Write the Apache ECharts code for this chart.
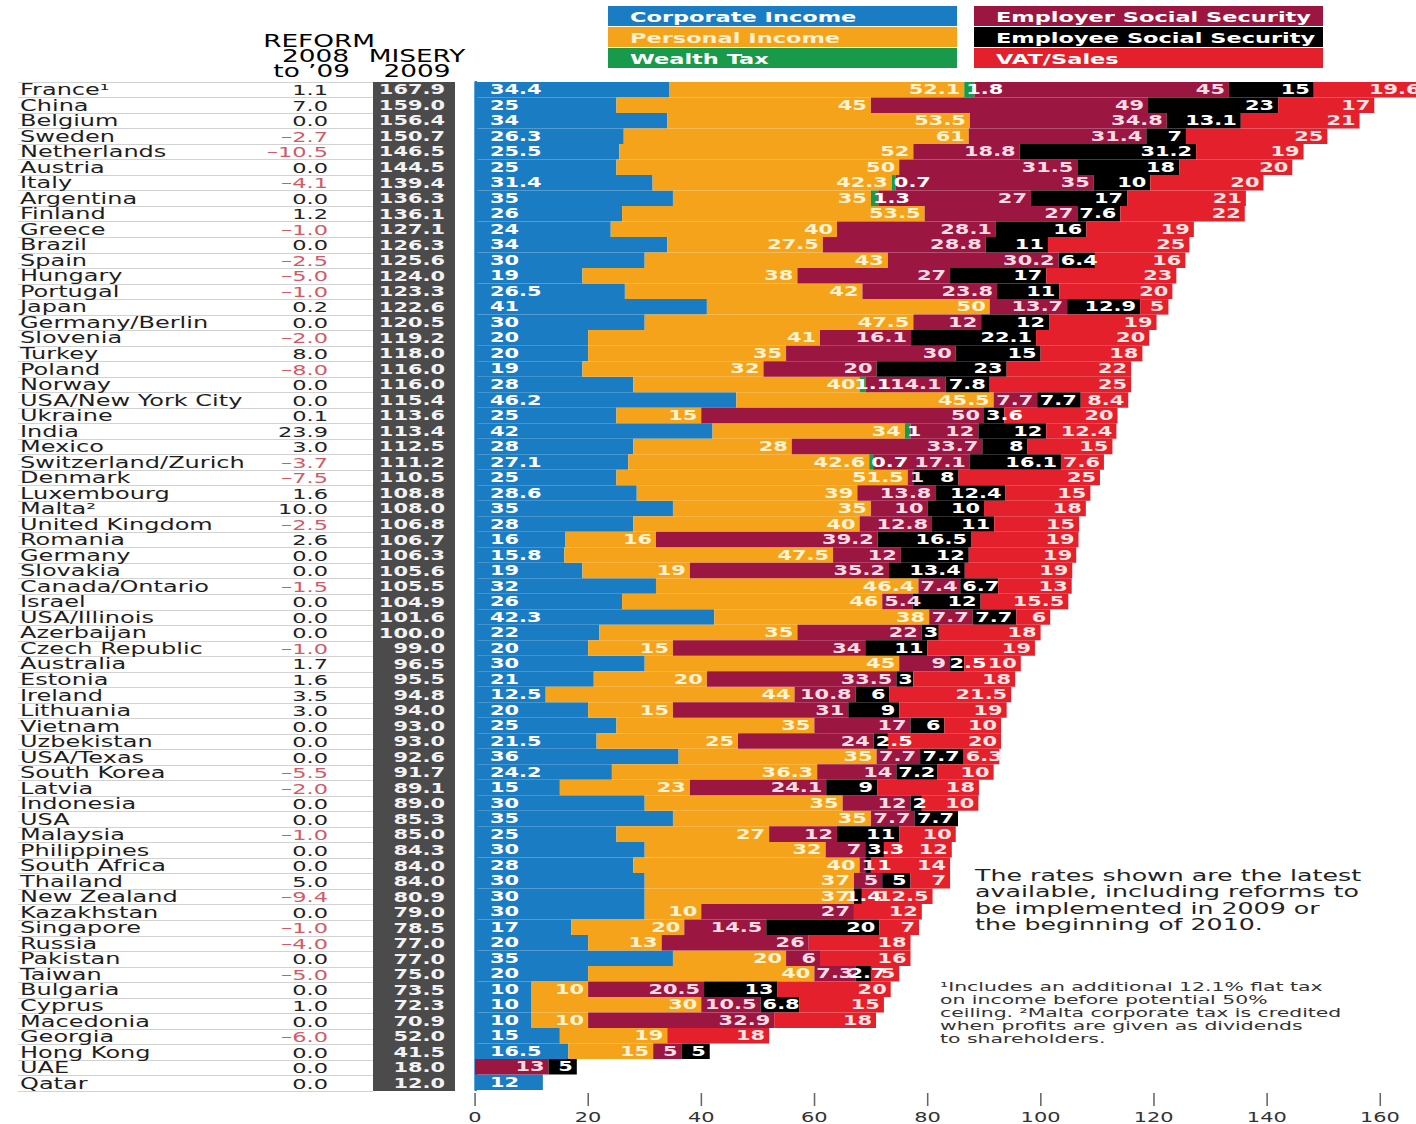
<!DOCTYPE html>
<html>
<head>
<meta charset="utf-8">
<script src="https://cdn.jsdelivr.net/npm/echarts@6/dist/echarts.min.js"></script>
<style>
  html, body { margin: 0; padding: 0; background: #fff; overflow: hidden; }
  #chart { height: 1124px; transform-origin: 0 0; }
</style>
</head>
<body>
<div id="chart"></div>
<script>
// ---- data -------------------------------------------------------------
const countries = ['France¹','China','Belgium','Sweden','Netherlands','Austria','Italy','Argentina','Finland','Greece',
  'Brazil','Spain','Hungary','Portugal','Japan','Germany/Berlin','Slovenia','Turkey','Poland','Norway',
  'USA/New York City','Ukraine','India','Mexico','Switzerland/Zurich','Denmark','Luxembourg','Malta²','United Kingdom','Romania',
  'Germany','Slovakia','Canada/Ontario','Israel','USA/Illinois','Azerbaijan','Czech Republic','Australia','Estonia','Ireland',
  'Lithuania','Vietnam','Uzbekistan','USA/Texas','South Korea','Latvia','Indonesia','USA','Malaysia','Philippines',
  'South Africa','Thailand','New Zealand','Kazakhstan','Singapore','Russia','Pakistan','Taiwan','Bulgaria','Cyprus',
  'Macedonia','Georgia','Hong Kong','UAE','Qatar'];

const reform = [1.1,7.0,0.0,-2.7,-10.5,0.0,-4.1,0.0,1.2,-1.0,
  0.0,-2.5,-5.0,-1.0,0.2,0.0,-2.0,8.0,-8.0,0.0,
  0.0,0.1,23.9,3.0,-3.7,-7.5,1.6,10.0,-2.5,2.6,
  0.0,0.0,-1.5,0.0,0.0,0.0,-1.0,1.7,1.6,3.5,
  3.0,0.0,0.0,0.0,-5.5,-2.0,0.0,0.0,-1.0,0.0,
  0.0,5.0,-9.4,0.0,-1.0,-4.0,0.0,-5.0,0.0,1.0,
  0.0,-6.0,0.0,0.0,0.0];

const misery = [167.9,159.0,156.4,150.7,146.5,144.5,139.4,136.3,136.1,127.1,
  126.3,125.6,124.0,123.3,122.6,120.5,119.2,118.0,116.0,116.0,
  115.4,113.6,113.4,112.5,111.2,110.5,108.8,108.0,106.8,106.7,
  106.3,105.6,105.5,104.9,101.6,100.0,99.0,96.5,95.5,94.8,
  94.0,93.0,93.0,92.6,91.7,89.1,89.0,85.3,85.0,84.3,
  84.0,84.0,80.9,79.0,78.5,77.0,77.0,75.0,73.5,72.3,
  70.9,52.0,41.5,18.0,12.0];

const corporate = [34.4,25,34,26.3,25.5,25,31.4,35,26,24,
  34,30,19,26.5,41,30,20,20,19,28,
  46.2,25,42,28,27.1,25,28.6,35,28,16,
  15.8,19,32,26,42.3,22,20,30,21,12.5,
  20,25,21.5,36,24.2,15,30,35,25,30,
  28,30,30,30,17,20,35,20,10,10,
  10,15,16.5,null,12];

const personal = [52.1,45,53.5,61,52,50,42.3,35,53.5,40,
  27.5,43,38,42,50,47.5,41,35,32,40,
  45.5,15,34,28,42.6,51.5,39,35,40,16,
  47.5,19,46.4,46,38,35,15,45,20,44,
  15,35,25,35,36.3,23,35,35,27,32,
  40,37,37,10,20,13,20,40,10,30,
  10,19,15,null,null];

const wealth = [1.8,null,null,null,null,null,0.7,1.3,null,null,
  null,null,null,null,null,null,null,null,null,1.1,
  null,null,1,null,0.7,null,null,null,null,null,
  null,null,null,null,null,null,null,null,null,null,
  null,null,null,null,null,null,null,null,null,null,
  null,null,null,null,null,null,null,null,null,null,
  null,null,null,null,null];

const employer = [45,49,34.8,31.4,18.8,31.5,35,27,27,28.1,
  28.8,30.2,27,23.8,13.7,12,16.1,30,20,14.1,
  7.7,50,12,33.7,17.1,1,13.8,10,12.8,39.2,
  12,35.2,7.4,5.4,7.7,22,34,9,33.5,10.8,
  31,17,24,7.7,14,24.1,12,7.7,12,7,
  1,5,null,27,14.5,26,6,7.3,20.5,10.5,
  32.9,null,5,13,null];

const employee = [15,23,13.1,7,31.2,18,10,17,7.6,16,
  11,6.4,17,11,12.9,12,22.1,15,23,7.8,
  7.7,3.6,12,8,16.1,8,12.4,10,11,16.5,
  12,13.4,6.7,12,7.7,3,11,2.5,3,6,
  9,6,2.5,7.7,7.2,9,2,7.7,11,3.3,
  1,5,1.4,null,20,null,null,2.7,13,6.8,
  null,null,5,5,null];

const vat = [19.6,17,21,25,19,20,20,21,22,19,
  25,16,23,20,5,19,20,18,22,25,
  8.4,20,12.4,15,7.6,25,15,18,15,19,
  19,19,13,15.5,6,18,19,10,18,21.5,
  19,10,20,6.3,10,18,10,null,10,12,
  14,7,12.5,12,7,18,16,5,20,15,
  18,18,null,null,null];

const seriesNames = ['Corporate Income','Personal Income','Wealth Tax',
  'Employer Social Security','Employee Social Security','VAT/Sales'];

const tickValues = [0, 20, 40, 60, 80, 100, 120, 140, 160];

// ---- layout & style ---------------------------------------------------
const SX = 1.55;                 // the page is drawn narrow and stretched sideways
const PAGE_W = 1416;
const X = v => v / SX;           // page px -> drawing px
const FONT = '"DejaVu Sans", sans-serif';
const TOP = 82, ROWS_H = 1009;
const BAR_LEFT = 475;            // page px of value 0
const AXIS_MAX = 166.5;          // value at the right edge of the page
const PX_PER_UNIT = (PAGE_W - BAR_LEFT) / AXIS_MAX;
const LABEL_FS = 13.5;

const colors = ['#1a7dc4','#f6a31c','#189a4a','#9b1742','#000000','#e3202b'];
const labelColors = ['#ffffff','#fff3d2','#ffffff','#f8dce5','#ffffff','#fde4e4'];

const stacks = [corporate, personal, wealth, employer, employee, vat];

// Bar label placement: corporate labels sit at the bar start, other labels
// flush right inside their segment; labels of thin segments are slid into
// the free space between their neighbours' labels.
function textWidth(v) {
  let w = 0;
  for (const c of String(v)) w += (c === '.') ? 0.38 : 0.696;
  return w * LABEL_FS * SX;
}
const placement = stacks.map(() => []);
for (let i = 0; i < countries.length; i++) {
  const segs = [];
  let start = 0;
  stacks.forEach((arr, k) => {
    const v = arr[i];
    if (v == null) return;
    segs.push({ k, s: start * PX_PER_UNIT, e: (start + v) * PX_PER_UNIT, tw: textWidth(v) });
    start += v;
  });
  segs.forEach(g => {
    if (g.k === 0) {
      g.fixed = true; g.left = g.s + 15;
      g.opt = { position: 'insideLeft', distance: X(15) };
    } else if (g.e - g.s >= g.tw + 6) {
      g.fixed = true; g.left = g.e - 4 - g.tw;
      g.opt = { position: 'insideRight', distance: X(4) };
    }
  });
  segs.forEach((g, j) => {
    if (g.fixed) return;
    let prevRight = -Infinity;
    for (let q = j - 1; q >= 0; q--) { if (segs[q].left != null) { prevRight = segs[q].left + segs[q].tw; break; } }
    let nextLeft = Infinity;
    for (let q = j + 1; q < segs.length; q++) { if (segs[q].fixed) { nextLeft = segs[q].left; break; } }
    let left = g.s + 2;
    if (left < prevRight + 1) left = prevRight + 1;
    if (left + g.tw > nextLeft - 1) left = nextLeft - 1 - g.tw;
    if (left < prevRight + 1) left = (prevRight + nextLeft - g.tw) / 2;
    g.left = left;
    g.opt = { position: [X(left - g.s), '50%'], align: 'left', verticalAlign: 'middle' };
  });
  segs.forEach(g => { placement[g.k][i] = g.opt; });
}

const fmt1 = v => (v < 0 ? '–' + Math.abs(v).toFixed(1) : v.toFixed(1));

// ---- chart --------------------------------------------------------------
const el = document.getElementById('chart');
el.style.width = (PAGE_W / SX) + 'px';
el.style.transform = 'scaleX(' + SX + ')';
const chart = echarts.init(el, null, { renderer: 'svg' });

const series = stacks.map((arr, k) => ({
  name: seriesNames[k],
  type: 'bar',
  stack: 'tax',
  xAxisIndex: 0,
  yAxisIndex: 0,
  clip: false,
  barCategoryGap: '0%',
  itemStyle: { color: colors[k] },
  label: {
    show: true,
    color: labelColors[k],
    fontFamily: FONT,
    fontWeight: 'bold',
    fontSize: LABEL_FS,
    lineHeight: 14,
    formatter: p => String(p.value)
  },
  data: arr.map((v, i) => v == null ? '-' : { value: v, label: placement[k][i] })
}));

// legend boxes drawn as labelled swatches
const legendGraphics = [];
seriesNames.forEach((name, k) => {
  const col = k < 3 ? 0 : 1;
  const row = k % 3;
  const bx = col === 0 ? 608 : 974;
  const by = 6 + row * 21;
  legendGraphics.push({
    type: 'rect', silent: true,
    shape: { x: X(bx), y: by, width: X(349), height: 20 },
    style: { fill: colors[k] }
  });
  legendGraphics.push({
    type: 'text', silent: true, x: X(bx + 22), y: by + 10.5,
    style: {
      text: name, fill: k === 1 ? '#fdf0cc' : '#ffffff',
      font: 'bold 14.5px ' + FONT, textAlign: 'left', textVerticalAlign: 'middle'
    }
  });
});

// column headings above the table
const headStyle = { fontSize: 17, fontFamily: FONT, color: '#222', lineHeight: 15 };
const headerGraphics = [
  { type: 'text', silent: true, x: X(375), y: 33,
    style: {
      text: '{r|REFORM}\n{p|2008}\n{q|to ’09}',
      textAlign: 'right', textVerticalAlign: 'top',
      rich: {
        r: headStyle,
        p: Object.assign({}, headStyle, { padding: [0, X(26), 0, 0] }),
        q: Object.assign({}, headStyle, { padding: [0, X(25), 0, 0] })
      }
    } },
  { type: 'text', silent: true, x: X(417), y: 48,
    style: {
      text: '{m|MISERY}\n{m|2009}',
      textAlign: 'center', textVerticalAlign: 'top',
      rich: { m: headStyle }
    } }
];

const noteGraphics = [
  { type: 'text', silent: true, x: X(975), y: 867,
    style: { text: 'The rates shown are the latest\navailable, including reforms to\nbe implemented in 2009 or\nthe beginning of 2010.',
      font: '16.3px ' + FONT, lineHeight: 16.5, fill: '#222', textAlign: 'left', textVerticalAlign: 'top' } },
  { type: 'text', silent: true, x: X(940), y: 980, scaleX: 1.07,
    style: { text: '¹Includes an additional 12.1% flat tax\non income before potential 50%\nceiling. ²Malta corporate tax is credited\nwhen profits are given as dividends\nto shareholders.',
      font: '12.3px ' + FONT, lineHeight: 13, fill: '#333', textAlign: 'left', textVerticalAlign: 'top' } }
];

const option = {
  animation: false,
  backgroundColor: '#ffffff',
  textStyle: { fontFamily: FONT },
  grid: [
    // stacked tax bars
    { left: X(BAR_LEFT), top: TOP, right: 0, height: ROWS_H, containLabel: false },
    // country / reform table
    { left: X(18), top: TOP, width: X(355), height: ROWS_H, containLabel: false },
    // misery index column
    { left: X(373), top: TOP, width: X(82), height: ROWS_H, containLabel: false,
      show: true, backgroundColor: '#4b4b4b', borderWidth: 0 }
  ],
  xAxis: [
    { gridIndex: 0, type: 'value', min: 0, max: AXIS_MAX, interval: 20, position: 'bottom', offset: 3,
      axisLine: { show: false },
      axisTick: { show: true, length: 13, customValues: tickValues, lineStyle: { color: '#666', width: 1 } },
      splitLine: { show: false },
      axisLabel: { fontSize: 13.5, color: '#333', margin: 17, fontFamily: FONT, customValues: tickValues,
        formatter: v => tickValues.indexOf(v) >= 0 ? String(v) : '' } },
    { gridIndex: 1, type: 'value', show: false, min: 0, max: 1 },
    { gridIndex: 2, type: 'value', show: false, min: 0, max: 1 }
  ],
  yAxis: [
    { gridIndex: 0, type: 'category', data: countries, inverse: true,
      axisLine: { show: true, lineStyle: { color: '#1a7dc4', width: 2 } },
      axisTick: { show: false }, axisLabel: { show: false }, splitLine: { show: false } },
    { gridIndex: 1, type: 'category', data: countries, inverse: true, position: 'left',
      axisLine: { show: false }, axisTick: { show: false },
      splitLine: { show: true, lineStyle: { color: '#d2d2d2', width: 1 } },
      axisLabel: { inside: true, margin: X(2), interval: 0, fontSize: 15.5, lineHeight: 15,
        color: '#1e1e1e', fontFamily: FONT } },
    { gridIndex: 1, type: 'category', data: countries, inverse: true, position: 'right',
      axisLine: { show: false }, axisTick: { show: false }, splitLine: { show: false },
      axisLabel: { inside: true, margin: X(45), interval: 0, fontSize: 14.5, lineHeight: 15, fontFamily: FONT,
        formatter: (v, i) => reform[i] < 0 ? '{neg|' + fmt1(reform[i]) + '}' : '{pos|' + fmt1(reform[i]) + '}',
        rich: { neg: { color: '#d25a68', fontSize: 14.5, lineHeight: 15, fontFamily: FONT },
                pos: { color: '#222222', fontSize: 14.5, lineHeight: 15, fontFamily: FONT } } } },
    { gridIndex: 2, type: 'category', data: countries, inverse: true, position: 'right',
      axisLine: { show: false }, axisTick: { show: false }, splitLine: { show: false },
      axisLabel: { inside: true, margin: X(10), interval: 0, fontSize: 13.5, lineHeight: 15, fontWeight: 'bold',
        color: '#f2f2f2', fontFamily: FONT,
        formatter: (v, i) => misery[i].toFixed(1) } }
  ],
  series: series,
  graphic: { elements: legendGraphics.concat(headerGraphics, noteGraphics) }
};

chart.setOption(option);
</script>
</body>
</html>
